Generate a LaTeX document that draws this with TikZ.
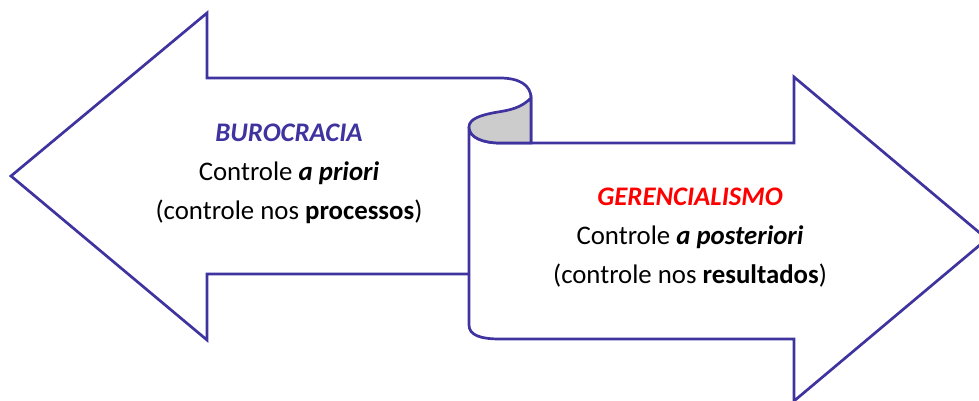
\documentclass[tikz,border=0pt]{standalone}
\usepackage{fontspec}
\setmainfont{Carlito}
\definecolor{edge}{HTML}{3F33A0}
\definecolor{curlgray}{HTML}{CCCCCC}
\definecolor{redtxt}{HTML}{FF0000}
\tikzset{
  outl/.style={draw=edge, line width=2.7pt, fill=white, line join=miter},
  txt/.style={align=center, font=\fontsize{26.8}{39}\selectfont, inner sep=0pt}
}
\begin{document}
\begin{tikzpicture}[x=1pt,y=-1pt]
\useasboundingbox (0,0) rectangle (979,400);
% left arrow (BUROCRACIA)
\draw[outl] (469,274) -- (207,274) -- (207,340) -- (11,176) -- (207,13) -- (207,78) -- (500,78)
  .. controls (519,78) and (531,85) .. (531,98) -- (531,274) -- cycle;
% right arrow (GERENCIALISMO)
\draw[outl] (469,127) .. controls (469,138) and (484,143) .. (500,143) -- (794,143) -- (794,77)
  -- (987,239) -- (794,401) -- (794,339) -- (500,339)
  .. controls (480,339) and (469,335) .. (469,325) -- cycle;
% curl
\draw[outl, fill=curlgray] (531,98) .. controls (521,108) and (510,110) .. (498,112)
  .. controls (480,115) and (469,119) .. (469,127)
  .. controls (469,138) and (484,143) .. (500,143) -- (531,143) -- cycle;
% texts
\node[txt] (buro) at (289,174) {\textcolor{edge}{\textbf{\textit{BUROCRACIA}}}\\Controle \textbf{\textit{a priori}}\\(controle nos \textbf{processos})};
\node[txt] (ger) at (690,238) {\textcolor{redtxt}{\textbf{\textit{GERENCIALISMO}}}\\Controle \textbf{\textit{a posteriori}}\\(controle nos \textbf{resultados})};
\end{tikzpicture}
\end{document}
